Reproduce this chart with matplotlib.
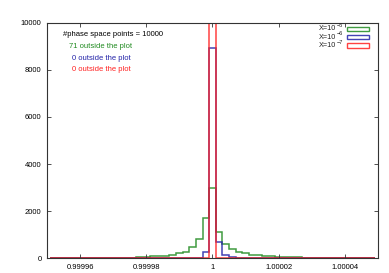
import numpy as np
import matplotlib
matplotlib.use("Agg")
import matplotlib.pyplot as plt
from matplotlib.patches import Rectangle

plt.rcParams['font.family'] = ['Liberation Sans', 'DejaVu Sans']

# histogram bins: width 2e-6, centred on 1, offsets in units of 1e-6
offsets = list(range(-48, 50, 2))

# counts per bin (offset -> count)
green_counts = {-30: 5, -28: 10, -26: 15, -24: 20, -22: 30, -20: 40, -18: 70,
                -16: 85, -14: 100, -12: 140, -10: 210, -8: 270, -6: 480,
                -4: 790, -2: 1710, 0: 3000, 2: 1090, 4: 580, 6: 370, 8: 240,
                10: 200, 12: 140, 14: 110, 16: 85, 18: 70, 20: 55, 22: 40,
                24: 30, 26: 25, 28: 20, 30: 15, 32: 10, 34: 8, 36: 5}
blue_counts = {-4: 10, -2: 270, 0: 8940, 2: 680, 4: 110, 6: 40}
red_counts = {0: 10000}

label_base = "X=10"
label_exp = ["\u22125", "\u22126", "\u22127"]
colors = ["#1f8a1f", "#2222a8", "#ff2020"]
notes = ["71 outside the plot", "0 outside the plot", "0 outside the plot"]
n_points = 10000

xticks = [0.99996, 0.99998, 1.0, 1.00002, 1.00004]
xticklabels = ["0.99996", "0.99998", "1", "1.00002", "1.00004"]
yticks = [0, 2000, 4000, 6000, 8000, 10000]


def to_array(d):
    return np.array([d.get(o, 0) for o in offsets], dtype=float)


edges = 1.0 + (np.array(offsets + [offsets[-1] + 2]) - 1) * 1e-6

fig = plt.figure(figsize=(3.89, 2.73), dpi=100)
ax = fig.add_axes([0.1208, 0.0549, 0.8509, 0.8609])

for counts, col in zip([green_counts, blue_counts, red_counts], colors):
    ax.stairs(to_array(counts), edges, color=col, lw=1.1, alpha=0.85)

ax.set_xlim(0.99995, 1.00005)
ax.set_ylim(0, 10000)
ax.set_xticks(xticks)
ax.set_xticklabels(xticklabels)
ax.set_yticks(yticks)
ax.tick_params(direction='in', length=3, width=0.6, labelsize=5.5,
               top=True, right=True, colors='#333333', labelcolor='black', pad=4)
for s in ax.spines.values():
    s.set_linewidth(0.8)
    s.set_color('#333333')

ax.text(0.20, 0.953, "#phase space points = %d" % n_points, transform=ax.transAxes,
        ha='center', va='center', fontsize=5.5, color='black')
for i, (t, col) in enumerate(zip(notes, colors)):
    ax.text(0.163, 0.902 - i * 0.051, t, transform=ax.transAxes,
            ha='center', va='center', fontsize=5.5, color=col)

# key, top right
for i, (ex, col) in enumerate(zip(label_exp, colors)):
    yk = 0.976 - i * 0.036
    ax.text(0.895, yk + 0.003, ex, transform=ax.transAxes, ha='right', va='bottom',
            fontsize=4.0, color='#222222')
    ax.text(0.873, yk, label_base, transform=ax.transAxes, ha='right', va='center',
            fontsize=5.2, color='#222222')
    ax.add_patch(Rectangle((0.906, yk - 0.009), 0.067, 0.018, transform=ax.transAxes,
                           fill=False, edgecolor=col, lw=1.0, alpha=0.85))

plt.savefig("out.png", dpi=100)
